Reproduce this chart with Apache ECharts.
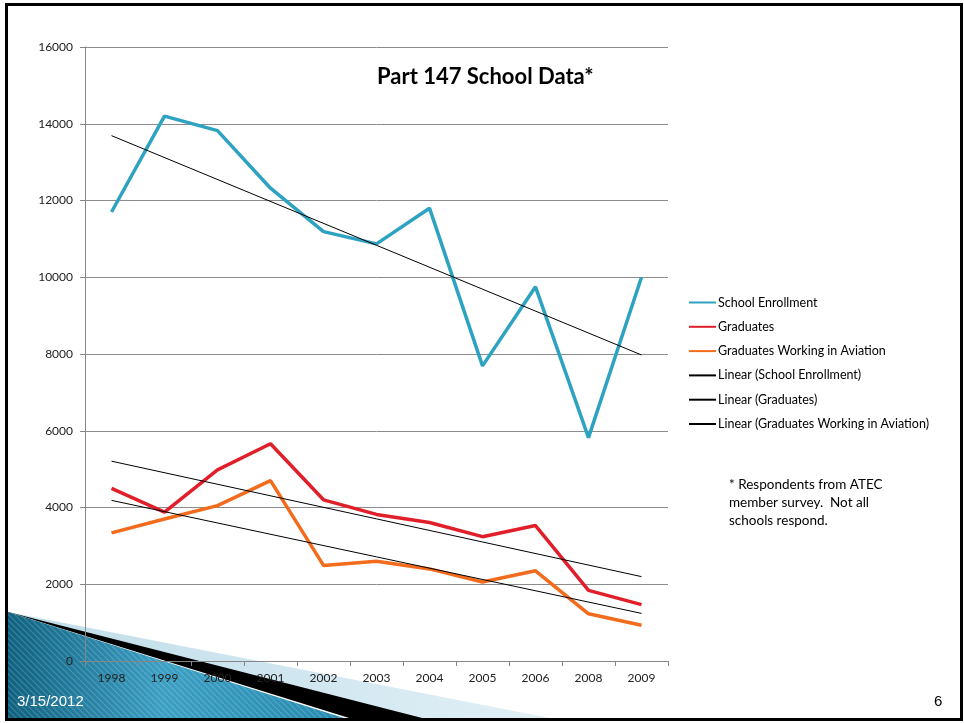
<!DOCTYPE html>
<html>
<head>
<meta charset="utf-8">
<title>Part 147 School Data</title>
<script src="https://cdn.jsdelivr.net/npm/echarts@6/dist/echarts.min.js"></script>
<style>
  html, body { margin: 0; padding: 0; background: #ffffff; }
  #chart { width: 964px; height: 723px; }
</style>
</head>
<body>
<div id="chart"></div>
<script>
// Survey years on the category axis (2007 is not in the survey)
const years = ['1998', '1999', '2000', '2001', '2002', '2003', '2004', '2005', '2006', '2008', '2009'];

// Yearly counts reported by responding schools
const schoolEnrollment = [11700, 14200, 13820, 12320, 11190, 10870, 11800, 7690, 9750, 5820, 10000];
const graduates = [4500, 3880, 4980, 5660, 4200, 3820, 3610, 3240, 3530, 1840, 1470];
const graduatesInAviation = [3340, 3700, 4050, 4700, 2490, 2600, 2400, 2060, 2350, 1230, 930];

// Linear trend end values (first year, last year) for each series
const trendNames = ['Linear (School Enrollment)', 'Linear (Graduates)', 'Linear (Graduates Working in Aviation)'];
const trendFirst = [13690, 5207, 4186];
const trendLast = [7975, 2199, 1241];

// Value axis ticks
const yTicks = [0, 2000, 4000, 6000, 8000, 10000, 12000, 14000, 16000];

const noteLines = ['* Respondents from ATEC', 'member survey.  Not all', 'schools respond.'];
const slideDate = '3/15/2012';
const slideNumber = '6';

// A straight trend segment: values only at the two ends, gap bridged
function trendData(first, last) {
  return years.map((y, i) => i === 0 ? first : (i === years.length - 1 ? last : null));
}

// Diagonal stripe texture for the blue corner shape
function stripePattern() {
  const c = document.createElement('canvas');
  c.width = 6; c.height = 6;
  const g = c.getContext('2d');
  g.strokeStyle = 'rgba(255,255,255,0.18)';
  g.lineWidth = 1.2;
  g.beginPath();
  g.moveTo(-1, -1); g.lineTo(7, 7);
  g.moveTo(-1, 5); g.lineTo(1, 7);
  g.moveTo(5, -1); g.lineTo(7, 1);
  g.stroke();
  return c;
}

const chart = echarts.init(document.getElementById('chart'), null, { renderer: 'canvas' });
const font = 'Lato, "Open Sans", sans-serif';

const colored = [
  { name: 'School Enrollment', data: schoolEnrollment, color: '#2ea3c1' },
  { name: 'Graduates', data: graduates, color: '#e11f2a' },
  { name: 'Graduates Working in Aviation', data: graduatesInAviation, color: '#f36b1c' }
];

const series = colored.map(s => ({
  name: s.name,
  type: 'line',
  data: s.data,
  symbol: 'none',
  z: 3,
  lineStyle: { color: s.color, width: 3.5 },
  itemStyle: { color: s.color }
})).concat(trendNames.map((n, i) => ({
  name: n,
  type: 'line',
  data: trendData(trendFirst[i], trendLast[i]),
  connectNulls: true,
  symbol: 'none',
  z: 4,
  lineStyle: { color: '#000000', width: 1 },
  itemStyle: { color: '#000000' }
})));

const cornerBlue = [[8, 612], [350, 720], [8, 720]];

chart.setOption({
  backgroundColor: '#ffffff',
  animation: false,
  title: {
    text: 'Part 147 School Data*',
    left: 372,
    top: 61,
    textStyle: { fontFamily: font, fontSize: 22, fontWeight: 'bold', color: '#000000' }
  },
  legend: {
    orient: 'vertical',
    left: 683,
    top: 291,
    itemWidth: 27,
    itemHeight: 14,
    itemGap: 11.3,
    data: colored.map(s => s.name).concat(trendNames),
    // legend keys are plain line samples, no marker
    itemStyle: { opacity: 0, borderWidth: 0 },
    textStyle: { fontFamily: font, fontSize: 12.5, color: '#000000', padding: [0, 0, 0, -3] }
  },
  grid: { left: 85, right: 296, top: 47, bottom: 62, containLabel: false },
  xAxis: {
    type: 'category',
    data: years,
    boundaryGap: true,
    axisLine: { lineStyle: { color: '#868686', width: 1 } },
    axisTick: { show: true, length: 5, lineStyle: { color: '#868686' } },
    axisLabel: { fontFamily: font, fontSize: 12, color: '#222222', margin: 11 }
  },
  yAxis: {
    type: 'value',
    min: yTicks[0],
    max: yTicks[yTicks.length - 1],
    interval: yTicks[1] - yTicks[0],
    axisLine: { show: true, lineStyle: { color: '#868686', width: 1 } },
    axisTick: { show: true, length: 5, lineStyle: { color: '#868686' } },
    axisLabel: { fontFamily: font, fontSize: 12, color: '#222222', margin: 12, formatter: v => String(v) },
    splitLine: { show: true, lineStyle: { color: '#8c8c8c', width: 1 } }
  },
  series: series,
  graphic: [
    // corner decoration: pale wedge, black band, blue striped wedge
    {
      type: 'polygon', z: -10, silent: true,
      shape: { points: [[8, 612], [560, 720], [8, 720]] },
      style: {
        fill: new echarts.graphic.LinearGradient(0, 0, 1, 0, [
          { offset: 0, color: '#bfdde9' },
          { offset: 0.6, color: '#d3e8f1' },
          { offset: 1, color: '#e4f0f6' }
        ])
      }
    },
    {
      type: 'polygon', z: -9, silent: true,
      shape: { points: [[8, 612], [430, 720], [8, 720]] },
      style: { fill: '#000000' }
    },
    {
      type: 'polyline', z: -8, silent: true,
      shape: { points: [[8, 613], [352, 720]] },
      style: { stroke: '#ffffff', lineWidth: 2 }
    },
    {
      type: 'polygon', z: -7, silent: true,
      shape: { points: cornerBlue },
      style: {
        fill: new echarts.graphic.LinearGradient(0, 0, 1, 0, [
          { offset: 0, color: '#0f617f' },
          { offset: 0.45, color: '#3c9fc4' },
          { offset: 1, color: '#2689ae' }
        ])
      }
    },
    {
      type: 'polygon', z: -6, silent: true,
      shape: { points: cornerBlue },
      style: { fill: { image: stripePattern(), repeat: 'repeat' } }
    },
    // slide footer
    {
      type: 'text', z: 50, silent: true,
      left: 17, top: 694,
      style: { text: slideDate, fill: '#ffffff', font: '15px "Liberation Sans", Arial, sans-serif' }
    },
    {
      type: 'text', z: 50, silent: true,
      left: 934, top: 694,
      style: { text: slideNumber, fill: '#000000', font: '15px "Liberation Sans", Arial, sans-serif' }
    },
    // survey note
    {
      type: 'text', z: 50, silent: true,
      left: 729, top: 476,
      style: { text: noteLines.join('\n'), fill: '#000000', font: '13.5px ' + font, lineHeight: 18 }
    },
    // slide frame
    {
      type: 'rect', z: 60, silent: true,
      shape: { x: 6.5, y: 4.5, width: 955, height: 715 },
      style: { fill: 'none', stroke: '#000000', lineWidth: 3 }
    }
  ]
});
</script>
</body>
</html>
